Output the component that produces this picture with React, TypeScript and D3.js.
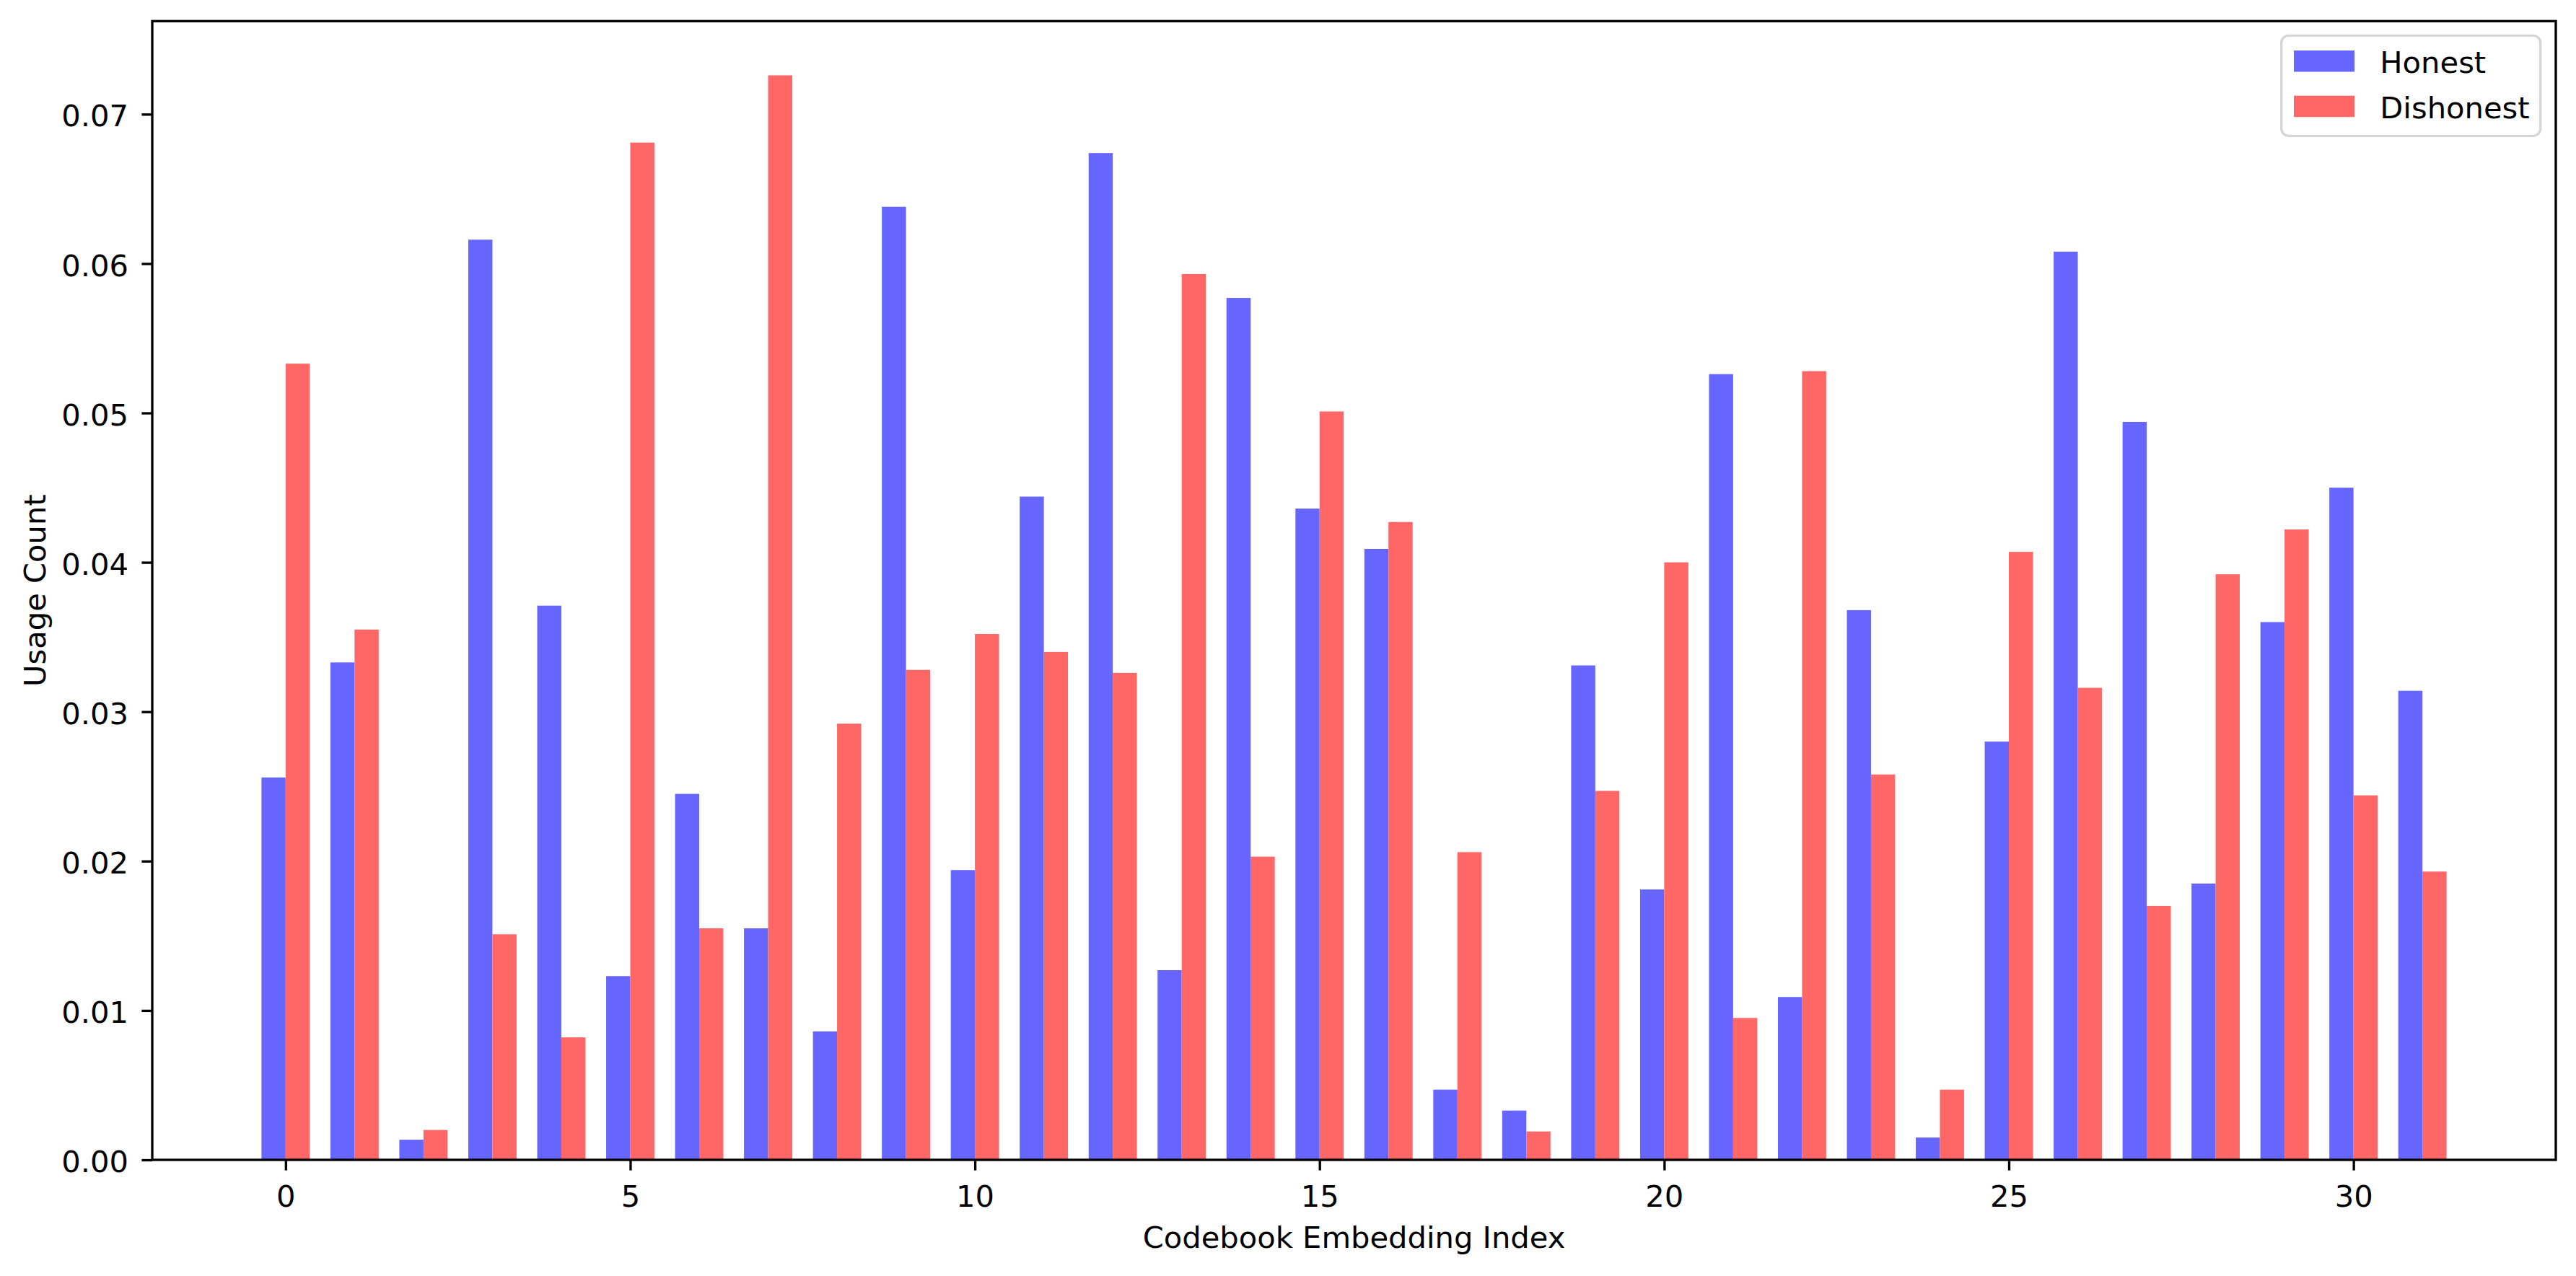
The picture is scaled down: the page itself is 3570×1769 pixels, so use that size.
import React, { useEffect, useRef } from 'react';
import * as d3 from 'd3';

const indices = d3.range(32);

const honest = [
  0.0256, 0.0333, 0.00135, 0.0616, 0.0371, 0.0123, 0.0245, 0.0155, 0.0086, 0.0638,
  0.0194, 0.0444, 0.0674, 0.0127, 0.0577, 0.0436, 0.0409, 0.0047, 0.0033, 0.0331,
  0.0181, 0.0526, 0.0109, 0.0368, 0.0015, 0.0280, 0.0608, 0.0494, 0.0185, 0.0360,
  0.0450, 0.0314,
];

const dishonest = [
  0.0533, 0.0355, 0.0020, 0.0151, 0.0082, 0.0681, 0.0155, 0.0726, 0.0292, 0.0328,
  0.0352, 0.0340, 0.0326, 0.0593, 0.0203, 0.0501, 0.0427, 0.0206, 0.0019, 0.0247,
  0.0400, 0.0095, 0.0528, 0.0258, 0.0047, 0.0407, 0.0316, 0.0170, 0.0392, 0.0422,
  0.0244, 0.0193,
];

const xTicks = [0, 5, 10, 15, 20, 25, 30];
const yTicks = [0, 0.01, 0.02, 0.03, 0.04, 0.05, 0.06, 0.07];
const seriesNames = ['Honest', 'Dishonest'];
const seriesColors = ['#6666ff', '#ff6666'];

const W = 3570;
const H = 1769;
const FONT = 'DejaVu Sans, sans-serif';
const FS = 41.67;

const App = () => {
  const ref = useRef(null);

  useEffect(() => {
    const svg = d3.select(ref.current);
    svg.selectAll('*').remove();

    const left = 211, right = 3542, top = 29.3, bottom = 1608;
    const barW = 0.35;

    const lo = -barW, hi = indices.length - 1 + barW;
    const pad = (hi - lo) * 0.05;
    const x = d3.scaleLinear().domain([lo - pad, hi + pad]).range([left, right]);
    const yMax = (d3.max([...honest, ...dishonest]) ?? 0) * 1.05;
    const y = d3.scaleLinear().domain([0, yMax]).range([bottom, top]);

    // bars
    const g = svg.append('g');
    [honest, dishonest].forEach((vals, s) => {
      g.selectAll(`.bar${s}`)
        .data(indices)
        .enter()
        .append('rect')
        .attr('x', i => x(s === 0 ? i - barW : i))
        .attr('y', i => y(vals[i]))
        .attr('width', x(barW) - x(0))
        .attr('height', i => bottom - y(vals[i]))
        .attr('fill', seriesColors[s]);
    });

    // x axis
    const xa = svg.append('g')
      .attr('transform', `translate(0,${bottom})`)
      .call(d3.axisBottom(x).tickValues(xTicks).tickFormat(d3.format('d')).tickSize(14.6).tickSizeOuter(0));
    xa.select('.domain').remove();
    xa.selectAll('line').attr('stroke', '#000').attr('stroke-width', 3.33);
    xa.selectAll('text')
      .attr('y', 65)
      .attr('dy', 0)
      .attr('fill', '#000')
      .style('font-family', FONT)
      .style('font-size', `${FS}px`);

    // y axis
    const ya = svg.append('g')
      .attr('transform', `translate(${left},0)`)
      .call(d3.axisLeft(y).tickValues(yTicks).tickFormat(d3.format('.2f')).tickSize(14.6).tickPadding(18.4).tickSizeOuter(0));
    ya.select('.domain').remove();
    ya.selectAll('line').attr('stroke', '#000').attr('stroke-width', 3.33);
    ya.selectAll('text')
      .attr('dy', '0.4em')
      .attr('fill', '#000')
      .style('font-family', FONT)
      .style('font-size', `${FS}px`);

    // frame
    svg.append('rect')
      .attr('x', left)
      .attr('y', top)
      .attr('width', right - left)
      .attr('height', bottom - top)
      .attr('fill', 'none')
      .attr('stroke', '#000')
      .attr('stroke-width', 3.33);

    // axis labels
    svg.append('text')
      .attr('x', (left + right) / 2)
      .attr('y', 1730)
      .attr('text-anchor', 'middle')
      .style('font-family', FONT)
      .style('font-size', `${FS}px`)
      .text('Codebook Embedding Index');

    svg.append('text')
      .attr('transform', `translate(63,${(top + bottom) / 2}) rotate(-90)`)
      .attr('text-anchor', 'middle')
      .style('font-family', FONT)
      .style('font-size', `${FS}px`)
      .text('Usage Count');

    // legend
    const lg = svg.append('g');
    lg.append('rect')
      .attr('x', 3161.7)
      .attr('y', 49.3)
      .attr('width', 359)
      .attr('height', 139)
      .attr('rx', 10)
      .attr('fill', 'rgba(255,255,255,0.8)')
      .attr('stroke', '#d6d6d6')
      .attr('stroke-width', 3.33);
    seriesNames.forEach((name, k) => {
      lg.append('rect')
        .attr('x', 3179)
        .attr('y', 70 + k * 62.7)
        .attr('width', 84)
        .attr('height', 29.5)
        .attr('fill', seriesColors[k]);
      lg.append('text')
        .attr('x', 3298.3)
        .attr('y', 100.7 + k * 63.6)
        .style('font-family', FONT)
        .style('font-size', `${FS}px`)
        .text(name);
    });
  }, []);

  return (
    <div style={{ position: 'absolute', left: 0, top: 0, background: '#fff' }}>
      <svg ref={ref} width={W} height={H} style={{ display: 'block', background: '#fff' }}></svg>
    </div>
  );
};

export default App;
